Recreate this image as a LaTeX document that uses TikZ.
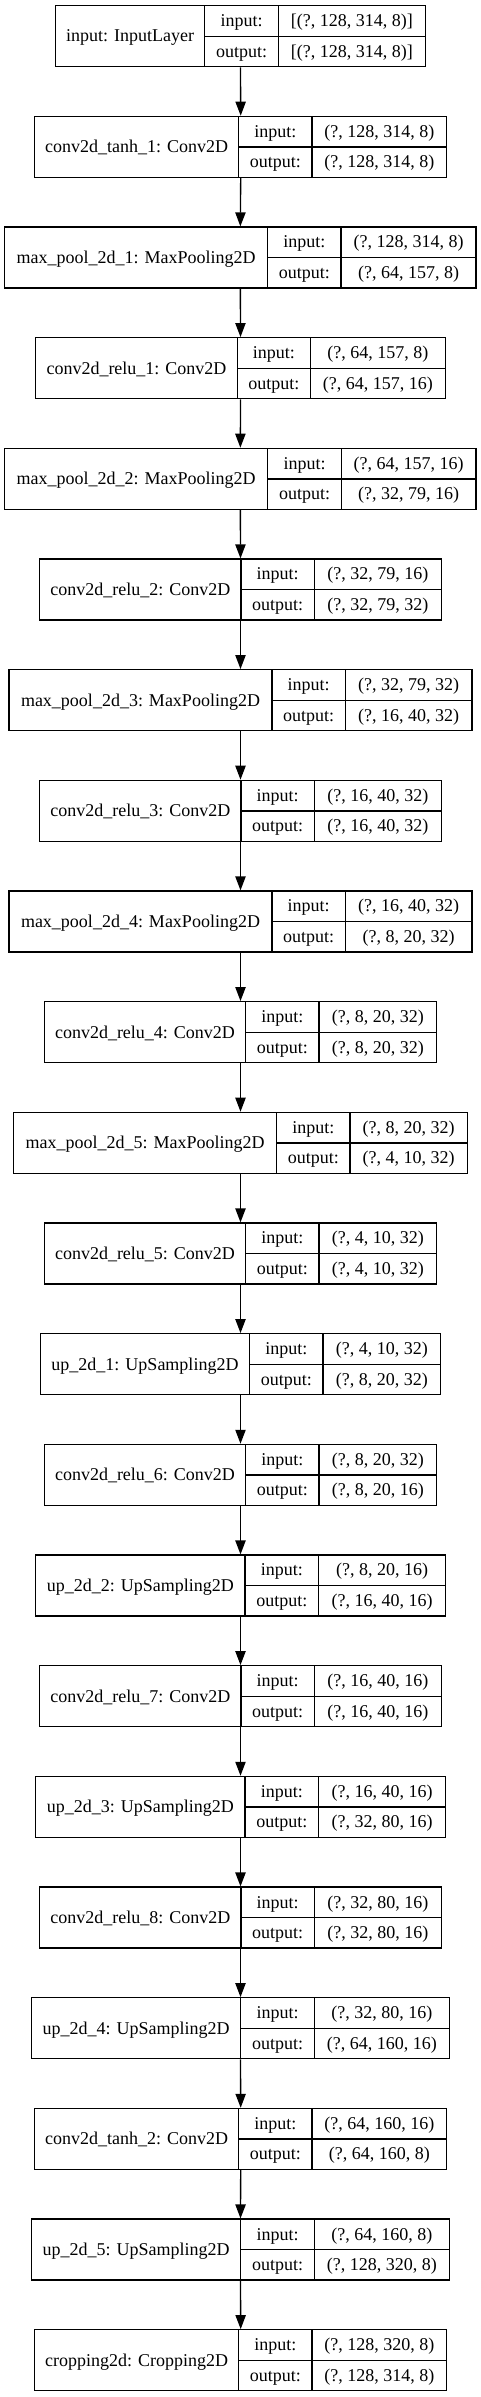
\documentclass[tikz,border=0pt]{standalone}
\usepackage{fontspec}
\setmainfont{Liberation Serif}
\usetikzlibrary{arrows.meta}
\tikzset{
  outerbox/.style={draw, line width=1pt, inner sep=0pt, minimum height=45.75pt},
  rulel/.style={line width=1pt},
  txt/.style={anchor=base, inner sep=0pt, font=\fontsize{13.5}{16}\selectfont},
  arr/.style={line width=1pt, -{Triangle[length=10.5pt, width=7.7pt]}}
}
% #1 id, #2 row, #3 left, #4 div1, #5 div2, #6 right, #7 label, #8 in, #9 out
\newcommand\layerbox[9]{%
  \pgfmathsetmacro\lyT{5.7+(#2-1)*110.67}%
  \pgfmathsetmacro\lyM{\lyT+30.5}%
  \pgfmathsetmacro\lyB{\lyT+61}%
  \node[outerbox, minimum width={(#6-#3)*0.75pt}] (#1) at ({(#3+#6)/2},\lyM) {};
  \draw[rulel] (#4,\lyT) -- (#4,\lyB) (#5,\lyT) -- (#5,\lyB) (#4,\lyM) -- (#6,\lyM);
  \node[txt] (#1-name) at ({(#3+#4)/2},{\lyM+5.8}) {#7};
  \node[txt] (#1-ik) at ({(#4+#5)/2},{\lyT+20.9}) {input:};
  \node[txt] (#1-iv) at ({(#5+#6)/2},{\lyT+20.9}) {#8};
  \node[txt] (#1-ok) at ({(#4+#5)/2},{\lyT+51.4}) {output:};
  \node[txt] (#1-ov) at ({(#5+#6)/2},{\lyT+51.4}) {#9};
}
\begin{document}
\begin{tikzpicture}[x=0.75pt, y=-0.75pt]
\useasboundingbox (0,0) rectangle (481,2397);
\layerbox{l1}{1}{55.7}{204.7}{278.3}{425.3}{input: InputLayer}{[(?, 128, 314, 8)]}{[(?, 128, 314, 8)]}
\layerbox{l2}{2}{34.7}{238.7}{312}{446.7}{conv2d\_tanh\_1: Conv2D}{(?, 128, 314, 8)}{(?, 128, 314, 8)}
\layerbox{l3}{3}{4.7}{267.7}{341}{476}{max\_pool\_2d\_1: MaxPooling2D}{(?, 128, 314, 8)}{(?, 64, 157, 8)}
\layerbox{l4}{4}{35.7}{237.3}{310.3}{445.3}{conv2d\_relu\_1: Conv2D}{(?, 64, 157, 8)}{(?, 64, 157, 16)}
\layerbox{l5}{5}{4.7}{267.7}{341.3}{476}{max\_pool\_2d\_2: MaxPooling2D}{(?, 64, 157, 16)}{(?, 32, 79, 16)}
\layerbox{l6}{6}{39.7}{241}{314.3}{441.3}{conv2d\_relu\_2: Conv2D}{(?, 32, 79, 16)}{(?, 32, 79, 32)}
\layerbox{l7}{7}{9}{272}{345.3}{472}{max\_pool\_2d\_3: MaxPooling2D}{(?, 32, 79, 32)}{(?, 16, 40, 32)}
\layerbox{l8}{8}{39.7}{241}{314.3}{441.3}{conv2d\_relu\_3: Conv2D}{(?, 16, 40, 32)}{(?, 16, 40, 32)}
\layerbox{l9}{9}{9}{272}{345.3}{472}{max\_pool\_2d\_4: MaxPooling2D}{(?, 16, 40, 32)}{(?, 8, 20, 32)}
\layerbox{l10}{10}{44.3}{245.7}{319}{436.7}{conv2d\_relu\_4: Conv2D}{(?, 8, 20, 32)}{(?, 8, 20, 32)}
\layerbox{l11}{11}{13.7}{276.7}{350}{467.3}{max\_pool\_2d\_5: MaxPooling2D}{(?, 8, 20, 32)}{(?, 4, 10, 32)}
\layerbox{l12}{12}{44.3}{245.7}{319}{436.7}{conv2d\_relu\_5: Conv2D}{(?, 4, 10, 32)}{(?, 4, 10, 32)}
\layerbox{l13}{13}{40.3}{249.7}{323}{440.7}{up\_2d\_1: UpSampling2D}{(?, 4, 10, 32)}{(?, 8, 20, 32)}
\layerbox{l14}{14}{44.3}{245.7}{319}{436.7}{conv2d\_relu\_6: Conv2D}{(?, 8, 20, 32)}{(?, 8, 20, 16)}
\layerbox{l15}{15}{35.7}{245}{318.7}{445.3}{up\_2d\_2: UpSampling2D}{(?, 8, 20, 16)}{(?, 16, 40, 16)}
\layerbox{l16}{16}{39.7}{241}{314.3}{441.3}{conv2d\_relu\_7: Conv2D}{(?, 16, 40, 16)}{(?, 16, 40, 16)}
\layerbox{l17}{17}{35.7}{245}{318.7}{445.3}{up\_2d\_3: UpSampling2D}{(?, 16, 40, 16)}{(?, 32, 80, 16)}
\layerbox{l18}{18}{39.7}{241}{314.3}{441.3}{conv2d\_relu\_8: Conv2D}{(?, 32, 80, 16)}{(?, 32, 80, 16)}
\layerbox{l19}{19}{31.7}{240.7}{314.3}{449.3}{up\_2d\_4: UpSampling2D}{(?, 32, 80, 16)}{(?, 64, 160, 16)}
\layerbox{l20}{20}{34.7}{238.7}{312}{446.7}{conv2d\_tanh\_2: Conv2D}{(?, 64, 160, 16)}{(?, 64, 160, 8)}
\layerbox{l21}{21}{31.7}{240.7}{314.3}{449.3}{up\_2d\_5: UpSampling2D}{(?, 64, 160, 8)}{(?, 128, 320, 8)}
\layerbox{l22}{22}{34.7}{238.7}{312}{446.7}{cropping2d: Cropping2D}{(?, 128, 320, 8)}{(?, 128, 314, 8)}
\foreach \a [evaluate=\a as \b using int(\a+1)] in {1,...,21}
  \draw[arr] (l\a.south) -- (l\b.north);
\end{tikzpicture}
\end{document}
